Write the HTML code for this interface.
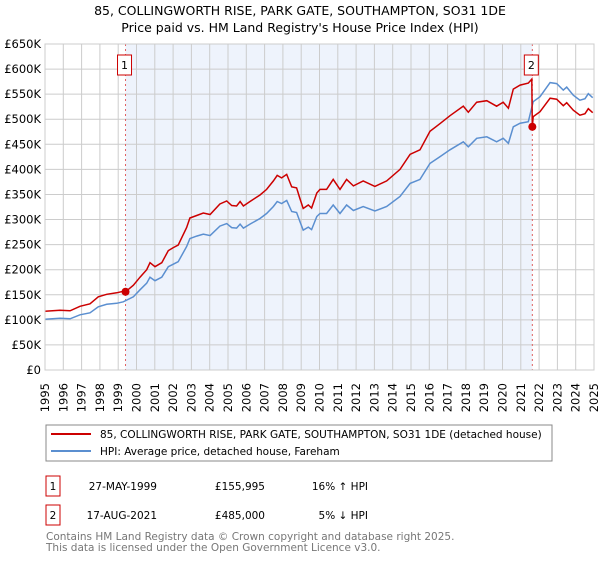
<!DOCTYPE html>
<html><head><meta charset="utf-8"><style>
body{margin:0;background:#fff;font-family:"Liberation Sans","DejaVu Sans",sans-serif;}
svg text{font-family:"DejaVu Sans","Liberation Sans",sans-serif;}
</style></head><body>
<svg id="chart" width="600" height="560" viewBox="0 0 600 560">
<text x="300" y="15" text-anchor="middle" font-size="12.5" fill="#000">85, COLLINGWORTH RISE, PARK GATE, SOUTHAMPTON, SO31 1DE</text>
<text x="300" y="32" text-anchor="middle" font-size="12.5" fill="#000">Price paid vs. HM Land Registry's House Price Index (HPI)</text>
<g id="plot"></g>
<g>
<rect x="46" y="425" width="506" height="36" fill="#fff" stroke="#888"/>
<line x1="51" y1="434" x2="91" y2="434" stroke="#cc0000" stroke-width="2"/>
<text x="100" y="438" font-size="10.5">85, COLLINGWORTH RISE, PARK GATE, SOUTHAMPTON, SO31 1DE (detached house)</text>
<line x1="51" y1="451" x2="91" y2="451" stroke="#5b8fd0" stroke-width="2"/>
<text x="100" y="455" font-size="10.5">HPI: Average price, detached house, Fareham</text>
</g>
<g font-size="10.5">
<rect x="46" y="476" width="14" height="20" fill="#fff" stroke="#cc0000"/>
<text x="53" y="490" text-anchor="middle">1</text>
<text x="157" y="490" text-anchor="end">27-MAY-1999</text>
<text x="265" y="490" text-anchor="end">£155,995</text>
<text x="368" y="490" text-anchor="end">16% ↑ HPI</text>
<rect x="46" y="505" width="14" height="20" fill="#fff" stroke="#cc0000"/>
<text x="53" y="519" text-anchor="middle">2</text>
<text x="157" y="519" text-anchor="end">17-AUG-2021</text>
<text x="265" y="519" text-anchor="end">£485,000</text>
<text x="368" y="519" text-anchor="end">5% ↓ HPI</text>
</g>
<text x="46" y="540" font-size="10.5" fill="#777">Contains HM Land Registry data © Crown copyright and database right 2025.</text>
<text x="46" y="551" font-size="10.5" fill="#777">This data is licensed under the Open Government Licence v3.0.</text>
</svg>
<script>
const hpiYears=[1995.0,1995.82,1996.37,1996.91,1997.46,1997.91,1998.37,1998.92,1999.28,1999.83,2000.19,2000.56,2000.74,2001.01,2001.38,2001.74,2002.01,2002.28,2002.74,2002.92,2003.29,2003.65,2004.02,2004.56,2004.93,2005.20,2005.47,2005.66,2005.84,2006.20,2006.75,2007.11,2007.48,2007.69,2007.93,2008.21,2008.48,2008.75,2008.93,2009.11,2009.39,2009.57,2009.85,2010.03,2010.39,2010.75,2011.12,2011.48,2011.85,2012.39,2013.03,2013.67,2014.40,2014.95,2015.49,2016.04,2016.58,2017.13,2017.86,2018.13,2018.59,2019.14,2019.68,2020.04,2020.32,2020.59,2020.96,2021.41,2021.68,2022.05,2022.60,2022.96,2023.32,2023.51,2023.87,2024.23,2024.51,2024.69,2024.93];
const hpiValues=[101,103,102,110,114,126,131,133,136,146,160,173,185,178,185,206,211,216,246,262,267,271,268,287,292,284,283,291,283,291,302,312,326,336,332,338,316,314,296,279,285,280,306,312,312,329,312,329,318,326,317,326,346,372,380,412,425,439,455,445,462,465,455,462,452,485,492,495,535,545,573,571,558,564,548,538,541,551,543];
const priceYears=[1995.0,1995.82,1996.37,1996.91,1997.46,1997.91,1998.37,1998.92,1999.28,1999.40,1999.83,2000.19,2000.56,2000.74,2001.01,2001.38,2001.74,2002.01,2002.28,2002.74,2002.92,2003.29,2003.65,2004.02,2004.56,2004.93,2005.20,2005.47,2005.66,2005.84,2006.20,2006.75,2007.11,2007.48,2007.69,2007.93,2008.21,2008.48,2008.75,2008.93,2009.11,2009.39,2009.57,2009.85,2010.03,2010.39,2010.75,2011.12,2011.48,2011.85,2012.39,2013.03,2013.67,2014.40,2014.95,2015.49,2016.04,2016.58,2017.13,2017.86,2018.13,2018.59,2019.14,2019.68,2020.04,2020.32,2020.59,2020.96,2021.41,2021.60,2021.63,2021.68,2022.05,2022.60,2022.96,2023.32,2023.51,2023.87,2024.23,2024.51,2024.69,2024.93];
const priceValues=[117,119,118,127,132,146,151,154,157,156,169,185,200,214,206,214,238,244,249,284,303,308,313,310,331,337,328,327,336,327,336,349,360,377,388,383,390,365,363,342,322,329,323,353,360,360,380,360,380,367,377,366,377,400,430,439,476,491,507,526,514,534,537,526,534,522,560,568,572,580,485,505,515,542,540,527,533,518,508,511,521,513];
const saleYears=[1999.40,2021.63];
const saleValues=[156,485];
const saleLabels=["1","2"];
const yTicks=[0,50,100,150,200,250,300,350,400,450,500,550,600,650];
const yTickLabels=["£0","£50K","£100K","£150K","£200K","£250K","£300K","£350K","£400K","£450K","£500K","£550K","£600K","£650K"];
const xTicks=[1995,1996,1997,1998,1999,2000,2001,2002,2003,2004,2005,2006,2007,2008,2009,2010,2011,2012,2013,2014,2015,2016,2017,2018,2019,2020,2021,2022,2023,2024,2025];

const NS="http://www.w3.org/2000/svg";
const L=45,R=594,T=44,B=370;
const xs=y=>L+(y-1995)/30*(R-L);
const ys=v=>B-v/650*(B-T);
const g=document.getElementById('plot');
function mk(tag,attrs){const e=document.createElementNS(NS,tag);for(const k in attrs)e.setAttribute(k,attrs[k]);g.appendChild(e);return e;}
let e=mk('rect',{x:L,y:T,width:R-L,height:B-T,fill:'#fff'});


e=mk('rect',{x:xs(saleYears[0]),y:T,width:xs(saleYears[1])-xs(saleYears[0]),height:B-T,fill:'#eef3fc'});


xTicks.forEach(t=>{
 e=mk('line',{x1:xs(t),x2:xs(t),y1:T,y2:B,stroke:'#ccc','stroke-width':1});
 
 
 const tx=mk('text',{x:0,y:0,'font-size':11.5,'text-anchor':'end',transform:`translate(${xs(t)+4},${B+13}) rotate(-90)`});
 tx.textContent=t;
 
 
});
yTicks.forEach((t,i)=>{
 e=mk('line',{x1:L,x2:R,y1:ys(t),y2:ys(t),stroke:'#ccc','stroke-width':1});
 
 
 const tx=mk('text',{x:L-4,y:ys(t)+4,'font-size':11.5,'text-anchor':'end'});
 tx.textContent=yTickLabels[i];
 
 
});
saleYears.forEach((y,i)=>{
 e=mk('line',{x1:xs(y),x2:xs(y),y1:T,y2:B,stroke:'#e06060','stroke-width':1,'stroke-dasharray':'2,3'});
 
 
});
const path=(xa,va)=>xa.map((y,i)=>(i?'L':'M')+xs(y).toFixed(1)+','+ys(va[i]).toFixed(1)).join('');
e=mk('path',{d:path(hpiYears,hpiValues),fill:'none',stroke:'#5b8fd0','stroke-width':1.5});


e=mk('path',{d:path(priceYears,priceValues),fill:'none',stroke:'#cc0000','stroke-width':1.5});


saleYears.forEach((y,i)=>{
 e=mk('circle',{cx:xs(y),cy:ys(saleValues[i]),r:4,fill:'#cc0000'});
 
 
 e=mk('rect',{x:xs(y)-8,y:55,width:14,height:20,fill:'#fff',stroke:'#cc0000'});
 
 
 const tx=mk('text',{x:xs(y)-1,y:69,'font-size':11,'text-anchor':'middle'});
 tx.textContent=saleLabels[i];
 
 
});
e=mk('rect',{x:L,y:T,width:R-L,height:B-T,fill:'none',stroke:'#ccc'});


</script>
</body></html>
